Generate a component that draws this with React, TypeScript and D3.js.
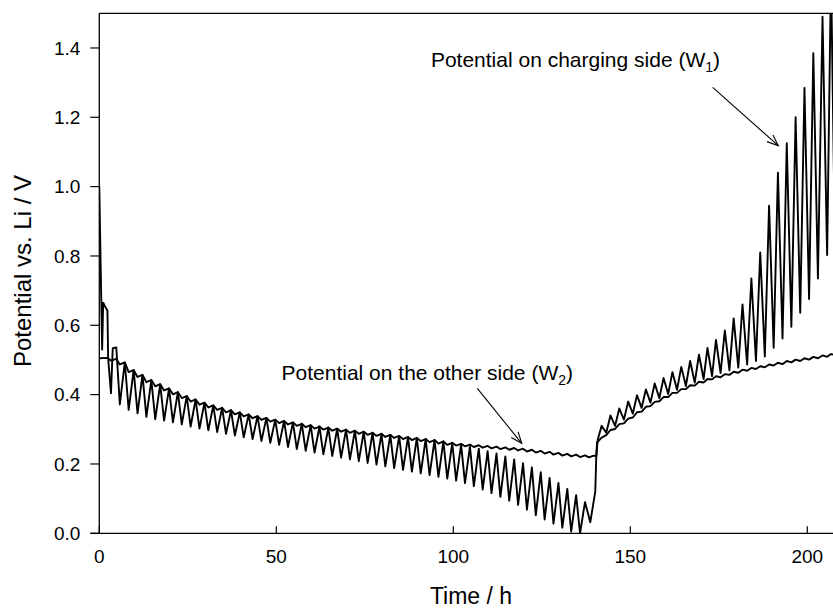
import React from 'react';
import * as d3 from 'd3';

const xTicks = [0, 50, 100, 150, 200];
const yTicks = [0, 0.2, 0.4, 0.6, 0.8, 1.0, 1.2, 1.4];

// Potential on charging side (W1): [time h, potential V]
const w1: [number, number][] = [
  [0, 1.0], [0.8, 0.53], [1.1, 0.665], [1.6, 0.655], [2.3, 0.642], [2.5, 0.505],
  [3.3, 0.404], [3.8, 0.534], [4.8, 0.536],
  [5.8, 0.372], [7.2, 0.493], [8.3, 0.356], [9.7, 0.471], [10.8, 0.346], [12.2, 0.457],
  [13.3, 0.336], [14.7, 0.442], [15.8, 0.329], [17.2, 0.43], [18.3, 0.325], [19.7, 0.418],
  [20.8, 0.32], [22.2, 0.407], [23.3, 0.314], [24.7, 0.396], [25.8, 0.308], [27.2, 0.386],
  [28.3, 0.302], [29.7, 0.377], [30.8, 0.297], [32.2, 0.369], [33.3, 0.292], [34.7, 0.362],
  [35.8, 0.287], [37.2, 0.355], [38.3, 0.282], [39.7, 0.349], [40.8, 0.277], [42.2, 0.343],
  [43.3, 0.272], [44.7, 0.338], [45.8, 0.266], [47.2, 0.333], [48.3, 0.261], [49.7, 0.328],
  [50.8, 0.255], [52.2, 0.324], [53.3, 0.249], [54.7, 0.32], [55.8, 0.243], [57.2, 0.316],
  [58.3, 0.238], [59.7, 0.312], [60.8, 0.233], [62.2, 0.308], [63.3, 0.228], [64.7, 0.305],
  [65.8, 0.223], [67.2, 0.302], [68.3, 0.218], [69.7, 0.299], [70.8, 0.213], [72.2, 0.296],
  [73.3, 0.208], [74.7, 0.293], [75.8, 0.203], [77.2, 0.29], [78.3, 0.198], [79.7, 0.287],
  [80.8, 0.193], [82.2, 0.284], [83.3, 0.188], [84.7, 0.281], [85.8, 0.183], [87.2, 0.278],
  [88.3, 0.178], [89.7, 0.275], [90.8, 0.173], [92.2, 0.272], [93.3, 0.168], [94.7, 0.269],
  [95.8, 0.163], [97.2, 0.265], [98.3, 0.158], [99.7, 0.261], [100.8, 0.152], [102.2, 0.256],
  [103.3, 0.145], [104.7, 0.25], [105.8, 0.136], [107.2, 0.244], [108.3, 0.126], [109.7, 0.237],
  [110.8, 0.116], [112.2, 0.23], [113.3, 0.105], [114.7, 0.222], [115.8, 0.094], [117.2, 0.213],
  [118.3, 0.082], [119.7, 0.202], [120.8, 0.068], [122.2, 0.19], [123.3, 0.052], [124.7, 0.176],
  [125.8, 0.04], [127.2, 0.16], [128.3, 0.028], [129.7, 0.145], [130.8, 0.016], [132.2, 0.128],
  [133.3, 0.005], [134.7, 0.11], [135.8, 0.0], [137.2, 0.09], [138.7, 0.032],
  [140.1, 0.12], [140.4, 0.225], [140.8, 0.27],
  [141.9, 0.31], [143.2, 0.29], [144.4, 0.34], [145.7, 0.31], [146.9, 0.36], [148.2, 0.328],
  [149.4, 0.38], [150.7, 0.345], [151.9, 0.398], [153.2, 0.362], [154.4, 0.415], [155.7, 0.377],
  [156.9, 0.432], [158.2, 0.39], [159.4, 0.448], [160.7, 0.402], [161.9, 0.465], [163.2, 0.414],
  [164.4, 0.48], [165.7, 0.425], [166.9, 0.497], [168.2, 0.435], [169.4, 0.515], [170.7, 0.445],
  [171.8, 0.535], [173.1, 0.453], [174.2, 0.558], [175.5, 0.462], [176.7, 0.585], [178.0, 0.47],
  [179.2, 0.62], [180.5, 0.478], [181.7, 0.66], [183.0, 0.487], [184.2, 0.735], [185.5, 0.497],
  [186.7, 0.81], [188.0, 0.51], [189.2, 0.945], [190.5, 0.535], [191.7, 1.04], [193.0, 0.562],
  [194.2, 1.125], [195.5, 0.596], [196.7, 1.2], [198.0, 0.636], [199.2, 1.285], [200.5, 0.676],
  [201.7, 1.385], [203.0, 0.735], [204.3, 1.49], [205.6, 0.803], [206.7, 1.62], [207.8, 0.84],
];

// Potential on the other side (W2): [time h, potential V]
const w2: [number, number][] = [
  [0, 0.505], [2.4, 0.506], [3.3, 0.498], [4.8, 0.503], [5.8, 0.487], [7.2, 0.493],
  [8.3, 0.465], [9.7, 0.471], [10.8, 0.451], [12.2, 0.457], [13.3, 0.436], [14.7, 0.442],
  [15.8, 0.424], [17.2, 0.43], [18.3, 0.412], [19.7, 0.418], [20.8, 0.401], [22.2, 0.407],
  [23.3, 0.39], [24.7, 0.396], [25.8, 0.38], [27.2, 0.386], [28.3, 0.371], [29.7, 0.377],
  [30.8, 0.363], [32.2, 0.369], [33.3, 0.356], [34.7, 0.362], [35.8, 0.349], [37.2, 0.355],
  [38.3, 0.343], [39.7, 0.349], [40.8, 0.337], [42.2, 0.343], [43.3, 0.332], [44.7, 0.338],
  [45.8, 0.327], [47.2, 0.333], [48.3, 0.322], [49.7, 0.328], [50.8, 0.318], [52.2, 0.324],
  [53.3, 0.314], [54.7, 0.32], [55.8, 0.31], [57.2, 0.316], [58.3, 0.306], [59.7, 0.312],
  [60.8, 0.302], [62.2, 0.308], [63.3, 0.299], [64.7, 0.305], [65.8, 0.296], [67.2, 0.302],
  [68.3, 0.293], [69.7, 0.299], [70.8, 0.29], [72.2, 0.296], [73.3, 0.287], [74.7, 0.293],
  [75.8, 0.284], [77.2, 0.29], [78.3, 0.281], [79.7, 0.287], [80.8, 0.278], [82.2, 0.284],
  [83.3, 0.275], [84.7, 0.281], [85.8, 0.272], [87.2, 0.278], [88.3, 0.269], [89.7, 0.275],
  [90.8, 0.266], [92.2, 0.272], [93.3, 0.263], [94.7, 0.269], [95.8, 0.259], [97.2, 0.265],
  [98.3, 0.255], [99.7, 0.261], [100.8, 0.253], [102.2, 0.258], [103.3, 0.251], [104.7, 0.256],
  [105.8, 0.249], [107.2, 0.254], [108.3, 0.247], [109.7, 0.252], [110.8, 0.245], [112.2, 0.25],
  [113.3, 0.243], [114.7, 0.248], [115.8, 0.241], [117.2, 0.246], [118.3, 0.239], [119.7, 0.244],
  [120.8, 0.236], [122.2, 0.241], [123.3, 0.233], [124.7, 0.238], [125.8, 0.23], [127.2, 0.235],
  [128.3, 0.227], [129.7, 0.232], [130.8, 0.224], [132.2, 0.229], [133.3, 0.222], [134.7, 0.227],
  [135.8, 0.22], [137.2, 0.225], [138.3, 0.219], [139.7, 0.224], [140.4, 0.222],
  [140.6, 0.262], [141.9, 0.276], [143.2, 0.283], [144.4, 0.298], [145.7, 0.301], [146.9, 0.315],
  [148.2, 0.317], [149.4, 0.331], [150.7, 0.334], [151.9, 0.349], [153.2, 0.351], [154.4, 0.365],
  [155.7, 0.367], [156.9, 0.379], [158.2, 0.381], [159.4, 0.393], [160.7, 0.393], [161.9, 0.405],
  [163.2, 0.405], [164.4, 0.416], [165.7, 0.416], [166.9, 0.427], [168.2, 0.426], [169.4, 0.437],
  [170.7, 0.435], [171.8, 0.445], [173.1, 0.444], [174.2, 0.453], [175.5, 0.45], [176.7, 0.459],
  [178.0, 0.457], [179.2, 0.466], [180.5, 0.463], [181.7, 0.472], [183.0, 0.469], [184.2, 0.477],
  [185.5, 0.474], [186.7, 0.482], [188.0, 0.479], [189.2, 0.487], [190.5, 0.484], [191.7, 0.492],
  [193.0, 0.488], [194.2, 0.497], [195.5, 0.493], [196.7, 0.501], [198.0, 0.497], [199.2, 0.505],
  [200.5, 0.501], [201.7, 0.509], [203.0, 0.505], [204.3, 0.513], [205.6, 0.509], [206.7, 0.517],
  [207.8, 0.515],
];

const FONT = '"Liberation Sans", Arial, Helvetica, sans-serif';

function Arrow({ x1, y1, x2, y2 }: { x1: number; y1: number; x2: number; y2: number }) {
  const a = Math.atan2(y2 - y1, x2 - x1);
  const len = 12;
  const spread = 0.38;
  const p1 = [x2 - len * Math.cos(a - spread), y2 - len * Math.sin(a - spread)];
  const p2 = [x2 - len * Math.cos(a + spread), y2 - len * Math.sin(a + spread)];
  return (
    <g stroke="#000" strokeWidth={1.1} fill="none">
      <line x1={x1} y1={y1} x2={x2} y2={y2} />
      <polyline points={`${p1[0]},${p1[1]} ${x2},${y2} ${p2[0]},${p2[1]}`} />
    </g>
  );
}

export default function App() {
  const left = 99.3;
  const top = 13.3;
  const bottom = 533.3;
  const right = 842.7;
  const x = d3.scaleLinear().domain([0, 210]).range([left, right]);
  const y = d3.scaleLinear().domain([0, 1.5]).range([bottom, top]);
  const line = d3
    .line<[number, number]>()
    .x((d) => x(d[0]))
    .y((d) => y(d[1]));
  const fmt = d3.format('.1f');

  return (
    <svg
      width={833}
      height={609}
      style={{ position: 'absolute', left: 0, top: 0, background: '#fff' }}
      fontFamily={FONT}
    >
      <rect x={0} y={0} width={833} height={609} fill="#fff" />
      <defs>
        <clipPath id="plot">
          <rect x={left} y={top} width={right - left} height={bottom - top} />
        </clipPath>
      </defs>
      <g clipPath="url(#plot)" fill="none" stroke="#000" strokeWidth={1.9} strokeLinejoin="round">
        <path d={line(w2) || ''} />
        <path d={line(w1) || ''} />
      </g>
      {/* frame */}
      <g stroke="#000" strokeWidth={1.3} fill="none">
        <line x1={left} y1={top} x2={right} y2={top} />
        <line x1={left} y1={top} x2={left} y2={bottom} />
        <line x1={left - 9} y1={bottom} x2={right} y2={bottom} />
      </g>
      {/* y ticks */}
      {yTicks.map((t) => (
        <g key={'y' + t}>
          <line x1={left - 9} x2={left} y1={y(t)} y2={y(t)} stroke="#000" strokeWidth={1.2} />
          <text x={left - 19} y={y(t)} dy="0.36em" textAnchor="end" fontSize={19} fill="#000">
            {fmt(t)}
          </text>
        </g>
      ))}
      {/* x ticks */}
      {xTicks.map((t) => (
        <g key={'x' + t}>
          <line x1={x(t)} x2={x(t)} y1={bottom} y2={bottom - 7} stroke="#000" strokeWidth={1.2} />
          <text x={x(t)} y={563} textAnchor="middle" fontSize={19} fill="#000">
            {t}
          </text>
        </g>
      ))}
      <text x={471} y={604} textAnchor="middle" fontSize={23} fill="#000">
        Time / h
      </text>
      <text
        transform="translate(30.5,271) rotate(-90)"
        textAnchor="middle"
        fontSize={24}
        fill="#000"
      >
        Potential vs. Li / V
      </text>
      {/* annotations */}
      <text x={720} y={67} textAnchor="end" fontSize={21} fill="#000">
        Potential on charging side (W
        <tspan fontSize={14} dy={5}>1</tspan>
        <tspan dy={-5}>)</tspan>
      </text>
      <Arrow x1={712.7} y1={87.3} x2={778.3} y2={145.7} />
      <text x={573} y={380} textAnchor="end" fontSize={21} fill="#000">
        Potential on the other side (W
        <tspan fontSize={14} dy={5}>2</tspan>
        <tspan dy={-5}>)</tspan>
      </text>
      <Arrow x1={477.3} y1={388.3} x2={521.7} y2={443.3} />
    </svg>
  );
}
